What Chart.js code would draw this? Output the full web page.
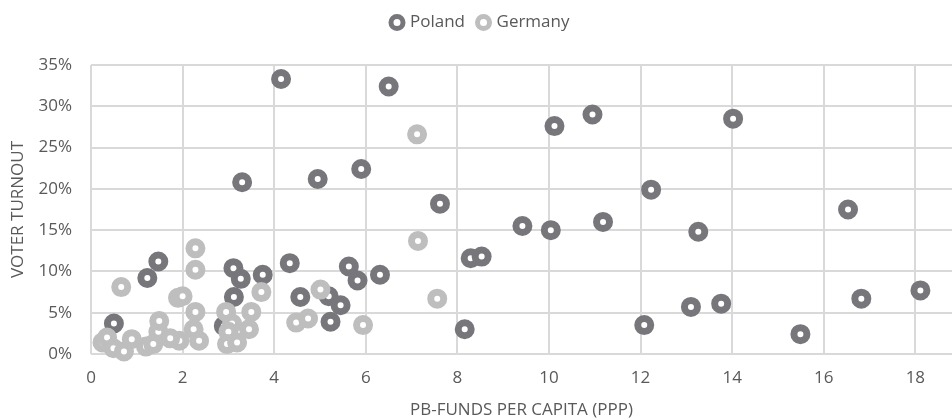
<!DOCTYPE html>
<html>
<head>
<meta charset="utf-8">
<script src="https://cdn.jsdelivr.net/npm/chart.js@4/dist/chart.umd.min.js"></script>
<style>
  html, body { margin: 0; padding: 0; background: #fff; overflow: hidden; }
  #wrap { width: 952px; height: 419px; }
  canvas { display: block; }
</style>
</head>
<body>
<div id="wrap"><canvas id="turnoutChart"></canvas></div>
<script>
// PB-funds per capita (PPP) vs voter turnout (%)
const polandX = [4.15, 6.5, 10.12, 10.95, 14.02, 3.3, 4.95, 5.9, 7.62, 12.23, 16.53, 9.42, 10.04, 11.18, 13.26,
  1.47, 1.23, 3.11, 3.27, 3.75, 4.34, 3.12, 4.57, 5.63, 5.82, 6.31, 5.19, 5.45, 5.23, 8.29, 8.53, 8.16,
  0.5, 2.9, 12.08, 13.1, 13.76, 15.49, 16.82, 18.11];
const polandY = [33.3, 32.4, 27.6, 29.0, 28.5, 20.8, 21.2, 22.4, 18.2, 19.9, 17.5, 15.5, 15.0, 16.0, 14.8,
  11.2, 9.2, 10.4, 9.1, 9.6, 11.0, 6.9, 6.9, 10.6, 8.9, 9.6, 7.0, 5.9, 3.9, 11.6, 11.8, 3.0,
  3.7, 3.4, 3.5, 5.7, 6.1, 2.4, 6.7, 7.7];

const germanyX = [7.12, 7.14, 2.28, 2.28, 0.66, 1.9, 2.0, 3.72, 7.56, 5.01, 4.48, 4.74, 5.94,
  2.28, 2.24, 2.36, 1.93, 2.95, 3.5, 3.08, 3.45, 3.0, 2.97, 3.19,
  0.25, 0.35, 0.49, 0.72, 0.89, 1.2, 1.36, 1.47, 1.49, 1.73];
const germanyY = [26.6, 13.7, 12.8, 10.2, 8.1, 6.8, 7.0, 7.5, 6.7, 7.8, 3.8, 4.3, 3.5,
  5.1, 3.0, 1.6, 1.6, 5.1, 5.1, 3.7, 3.0, 2.7, 1.2, 1.4,
  1.4, 2.0, 0.7, 0.3, 1.8, 0.9, 1.2, 2.7, 4.0, 1.9];

const xTicks = [0, 2, 4, 6, 8, 10, 12, 14, 16, 18];

const textColor = '#595959';
const gridColor = '#d9d9d9';
const fontFamily = '"Open Sans", Lato, sans-serif';

function toPoints(xs, ys) {
  return xs.map((x, i) => ({ x: x, y: ys[i] }));
}

function ringStyle(color) {
  return {
    pointStyle: 'circle',
    pointRadius: 6.5,
    pointHoverRadius: 6.5,
    pointBorderWidth: 7,
    pointBackgroundColor: '#ffffff',
    pointBorderColor: color,
    backgroundColor: '#ffffff',
    borderColor: color,
    borderWidth: 7,
    clip: false
  };
}

// big markers otherwise reserve a blank strip on the right of the plot
Chart.registry.getController('scatter').prototype.getMaxOverflow = function () { return 0; };

// make room under the legend so the plot starts where the original does
const legendSpace = {
  id: 'legendSpace',
  beforeInit(chart) {
    const origFit = chart.legend.fit;
    chart.legend.fit = function () {
      origFit.bind(chart.legend)();
      this.height = 65;
    };
  }
};

const ctx = document.getElementById('turnoutChart').getContext('2d');

new Chart(ctx, {
  type: 'scatter',
  data: {
    datasets: [
      Object.assign({ label: 'Poland', data: toPoints(polandX, polandY), order: 1 }, ringStyle('#77777b')),
      Object.assign({ label: 'Germany', data: toPoints(germanyX, germanyY), order: 0 }, ringStyle('#bebebf'))
    ]
  },
  options: {
    responsive: true,
    maintainAspectRatio: false,
    animation: false,
    layout: { padding: { top: 0, right: 0, left: 10, bottom: 0 } },
    plugins: {
      tooltip: { enabled: false },
      legend: {
        position: 'top',
        labels: {
          usePointStyle: true,
          pointStyle: 'circle',
          boxWidth: 9,
          boxHeight: 8.5,
          padding: 14,
          color: textColor,
          font: { family: fontFamily, size: 17 },
          sort: (a, b) => a.datasetIndex - b.datasetIndex,
          generateLabels: chart => {
            const items = Chart.defaults.plugins.legend.labels.generateLabels(chart);
            items.forEach(it => { it.lineWidth = 5; });
            return items;
          }
        }
      }
    },
    scales: {
      x: {
        type: 'linear',
        min: 0,
        max: 18.8,
        afterBuildTicks: axis => { axis.ticks = xTicks.map(v => ({ value: v })); },
        afterFit: axis => { axis.height = 65; axis.paddingRight = 0; },
        grid: { color: gridColor, lineWidth: 2, drawTicks: false },
        border: { display: false },
        ticks: { color: textColor, font: { family: fontFamily, size: 17, lineHeight: 1 }, padding: 16 },
        title: {
          display: true,
          text: 'PB-FUNDS PER CAPITA (PPP)',
          color: textColor,
          font: { family: fontFamily, size: 17, lineHeight: 1 },
          padding: 0
        }
      },
      y: {
        min: 0,
        max: 35,
        afterFit: axis => { axis.width = 81; },
        grid: { color: gridColor, lineWidth: 2, drawTicks: false },
        border: { display: false },
        ticks: {
          stepSize: 5,
          color: textColor,
          font: { family: fontFamily, size: 17 },
          padding: 19,
          callback: v => v + '%'
        },
        title: {
          display: true,
          text: 'VOTER TURNOUT',
          color: textColor,
          font: { family: fontFamily, size: 17, lineHeight: 1 },
          padding: 0
        }
      }
    }
  },
  plugins: [legendSpace]
});
</script>
</body>
</html>
